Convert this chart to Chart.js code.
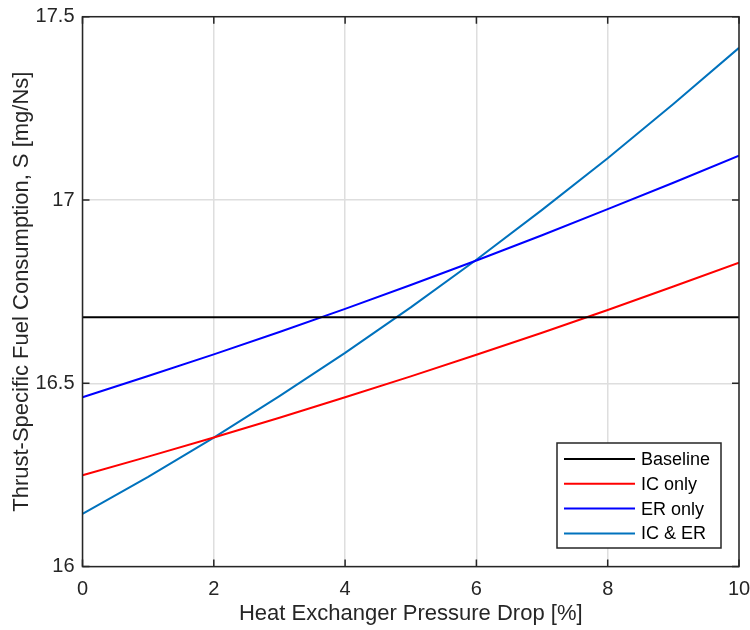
<!DOCTYPE html>
<html>
<head>
<meta charset="utf-8">
<script src="https://cdn.jsdelivr.net/npm/chart.js@4.4.1/dist/chart.umd.min.js"></script>
<style>
  html, body { margin: 0; padding: 0; background: #fff; }
  #wrap { width: 750px; height: 630px; }
</style>
</head>
<body>
<div id="wrap"><canvas id="tsfc"></canvas></div>
<script>
// pressure drop [%]
const pressureDrop = [0, 1, 2, 3, 4, 5, 6, 7, 8, 9, 10];

// TSFC [mg/Ns] per configuration
const baseline = [16.68, 16.68, 16.68, 16.68, 16.68, 16.68, 16.68, 16.68, 16.68, 16.68, 16.68];
const icOnly   = [16.249, 16.300, 16.352, 16.406, 16.462, 16.519, 16.578, 16.638, 16.700, 16.764, 16.829];
const erOnly   = [16.462, 16.520, 16.579, 16.640, 16.703, 16.768, 16.835, 16.904, 16.975, 17.047, 17.121];
const icEr     = [16.144, 16.245, 16.352, 16.465, 16.583, 16.707, 16.837, 16.973, 17.114, 17.262, 17.415];

const seriesNames = ['Baseline', 'IC only', 'ER only', 'IC & ER'];
const yTicks = [16, 16.5, 17, 17.5];
const yTickLabels = ['16', '16.5', '17', '17.5'];
const xTicks = [0, 2, 4, 6, 8, 10];

const FONT = 'Helvetica, Arial, "Liberation Sans", sans-serif';
const AXIS_COLOR = '#262626';

function pts(ys) {
  return pressureDrop.map((x, i) => ({ x: x, y: ys[i] }));
}

function line(label, ys, color) {
  return {
    label, data: pts(ys), borderColor: color, backgroundColor: color,
    borderWidth: 2, pointRadius: 0, fill: false, tension: 0
  };
}

// box around the axes with inward tick marks, plus the legend box
const boxPlugin = {
  id: 'boxPlugin',
  afterDraw(chart) {
    const { ctx, chartArea: a, scales: { x, y } } = chart;
    ctx.save();
    ctx.strokeStyle = AXIS_COLOR;
    ctx.lineWidth = 1.5;
    ctx.strokeRect(a.left, a.top, a.right - a.left, a.bottom - a.top);
    const tl = 7;
    ctx.beginPath();
    xTicks.forEach(v => {
      const px = x.getPixelForValue(v);
      ctx.moveTo(px, a.bottom); ctx.lineTo(px, a.bottom - tl);
      ctx.moveTo(px, a.top); ctx.lineTo(px, a.top + tl);
    });
    yTicks.forEach(v => {
      const py = y.getPixelForValue(v);
      ctx.moveTo(a.left, py); ctx.lineTo(a.left + tl, py);
      ctx.moveTo(a.right, py); ctx.lineTo(a.right - tl, py);
    });
    ctx.stroke();

    // legend
    const lx = 557, ly = 443, lw = 164, lh = 105;
    ctx.fillStyle = '#fff';
    ctx.fillRect(lx, ly, lw, lh);
    ctx.strokeStyle = AXIS_COLOR;
    ctx.lineWidth = 1.5;
    ctx.strokeRect(lx, ly, lw, lh);
    ctx.font = '18px ' + FONT;
    ctx.textBaseline = 'middle';
    ctx.textAlign = 'left';
    chart.data.datasets.forEach((ds, i) => {
      const ry = ly + 16 + i * 24.8;
      ctx.strokeStyle = ds.borderColor;
      ctx.lineWidth = 2;
      ctx.beginPath();
      ctx.moveTo(lx + 7, ry); ctx.lineTo(lx + 78, ry);
      ctx.stroke();
      ctx.fillStyle = '#000';
      ctx.fillText(ds.label, lx + 84, ry + 1);
    });
    ctx.restore();
  }
};

new Chart(document.getElementById('tsfc'), {
  type: 'line',
  data: {
    datasets: [
      line(seriesNames[0], baseline, '#000000'),
      line(seriesNames[1], icOnly, '#ff0000'),
      line(seriesNames[2], erOnly, '#0000ff'),
      line(seriesNames[3], icEr, '#0072bd')
    ]
  },
  options: {
    responsive: true,
    maintainAspectRatio: false,
    animation: false,
    devicePixelRatio: 1,
    layout: { padding: { top: 16.7, right: 11, left: 0, bottom: 0 } },
    plugins: { legend: { display: false }, tooltip: { enabled: false } },
    scales: {
      x: {
        type: 'linear', min: 0, max: 10,
        afterBuildTicks: s => { s.ticks = xTicks.map(v => ({ value: v })); },
        afterFit: s => { s.height = 63.4; s.paddingLeft = 0; s.paddingRight = 0; },
        grid: { color: '#dedede', lineWidth: 1.5, drawTicks: false },
        border: { display: false },
        ticks: { color: AXIS_COLOR, font: { size: 20, family: FONT }, padding: 11, maxRotation: 0 },
        title: {
          display: true, text: 'Heat Exchanger Pressure Drop [%]', color: AXIS_COLOR,
          font: { size: 22, family: FONT }, padding: { top: 0, bottom: 3 }
        }
      },
      y: {
        min: 16, max: 17.5,
        afterBuildTicks: s => { s.ticks = yTicks.map(v => ({ value: v })); },
        afterFit: s => { s.width = 82.5; s.paddingTop = 0; s.paddingBottom = 0; },
        grid: { color: '#dedede', lineWidth: 1.5, drawTicks: false },
        border: { display: false },
        ticks: {
          color: AXIS_COLOR, font: { size: 20, family: FONT }, padding: 8,
          callback: v => yTickLabels[yTicks.indexOf(v)]
        },
        title: {
          display: true, text: 'Thrust-Specific Fuel Consumption, S [mg/Ns]', color: AXIS_COLOR,
          font: { size: 22, family: FONT }, padding: { top: 9, bottom: 0 }
        }
      }
    }
  },
  plugins: [boxPlugin]
});
</script>
</body>
</html>
